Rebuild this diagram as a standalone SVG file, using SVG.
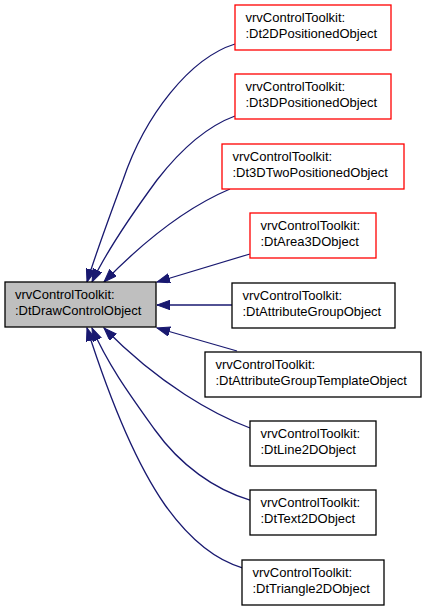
<svg xmlns="http://www.w3.org/2000/svg" width="427" height="611" viewBox="0 0 427 611">
<defs>
<style>
.box{fill:#ffffff;stroke:#000000;stroke-width:1.3}
.red{fill:#ffffff;stroke:#ff0000;stroke-width:1.3}
.main{fill:#bfbfbf;stroke:#000000;stroke-width:1.3}
.lbl{font-family:"Liberation Sans",Arial,Helvetica,sans-serif;font-size:13px;fill:#000000}
.edge{fill:none;stroke:#191970;stroke-width:1.3;marker-end:url(#arr)}
</style>
<marker id="arr" markerUnits="userSpaceOnUse" markerWidth="14" markerHeight="10" refX="13" refY="4.7" orient="auto">
<path d="M0,0 L13,4.7 L0,9.4 Z" fill="#191970" stroke="#191970" stroke-width="1"/>
</marker>
</defs>
<rect width="427" height="611" fill="#ffffff"/>
<g id="connectors">
<path class="edge" d="M235,44 C190,58 145,115 123,180 C110,215 97,250 87,282"/>
<path class="edge" d="M235,116 C205,127 178,153 157,180 C135,210 108,248 92,282"/>
<path class="edge" d="M230,189 C185,208 140,245 104,282"/>
<path class="edge" d="M250,254 L157,282"/>
<path class="edge" d="M232,305 L157,305"/>
<path class="edge" d="M237,351 L157,328"/>
<path class="edge" d="M250,428 C215,415 160,385 104,328"/>
<path class="edge" d="M250,500 C215,490 180,465 155,430 C130,395 108,365 92,328"/>
<path class="edge" d="M243,568 C215,560 190,540 165,505 C135,462 110,400 87,328"/>
</g>
<g id="DtDrawControlObject">
<rect class="main" x="5" y="282" width="151" height="45"/>
<text class="lbl" x="15" y="299">vrvControlToolkit:</text>
<text class="lbl" x="15" y="314.5">:DtDrawControlObject</text>
</g>
<g id="Dt2DPositionedObject">
<rect class="red" x="235" y="5" width="156" height="45"/>
<text class="lbl" x="245.5" y="22">vrvControlToolkit:</text>
<text class="lbl" x="245.5" y="37.5">:Dt2DPositionedObject</text>
</g>
<g id="Dt3DPositionedObject">
<rect class="red" x="235" y="74" width="156" height="45"/>
<text class="lbl" x="245.5" y="91">vrvControlToolkit:</text>
<text class="lbl" x="245.5" y="106.5">:Dt3DPositionedObject</text>
</g>
<g id="Dt3DTwoPositionedObject">
<rect class="red" x="222" y="144" width="182" height="45"/>
<text class="lbl" x="232.5" y="161">vrvControlToolkit:</text>
<text class="lbl" x="232.5" y="176.5">:Dt3DTwoPositionedObject</text>
</g>
<g id="DtArea3DObject">
<rect class="red" x="250" y="213" width="126" height="45"/>
<text class="lbl" x="260.5" y="230">vrvControlToolkit:</text>
<text class="lbl" x="260.5" y="245.5">:DtArea3DObject</text>
</g>
<g id="DtAttributeGroupObject">
<rect class="box" x="232" y="283" width="163" height="45"/>
<text class="lbl" x="242.5" y="300">vrvControlToolkit:</text>
<text class="lbl" x="242.5" y="315.5">:DtAttributeGroupObject</text>
</g>
<g id="DtAttributeGroupTemplateObject">
<rect class="box" x="205" y="352" width="216" height="45"/>
<text class="lbl" x="215.5" y="369">vrvControlToolkit:</text>
<text class="lbl" x="215.5" y="384.5">:DtAttributeGroupTemplateObject</text>
</g>
<g id="DtLine2DObject">
<rect class="box" x="250" y="421" width="126" height="45"/>
<text class="lbl" x="260.5" y="438">vrvControlToolkit:</text>
<text class="lbl" x="260.5" y="453.5">:DtLine2DObject</text>
</g>
<g id="DtText2DObject">
<rect class="box" x="250" y="490" width="126" height="45"/>
<text class="lbl" x="260.5" y="507">vrvControlToolkit:</text>
<text class="lbl" x="260.5" y="522.5">:DtText2DObject</text>
</g>
<g id="DtTriangle2DObject">
<rect class="box" x="242" y="560" width="142" height="45"/>
<text class="lbl" x="252.5" y="577">vrvControlToolkit:</text>
<text class="lbl" x="252.5" y="592.5">:DtTriangle2DObject</text>
</g>
</svg>
